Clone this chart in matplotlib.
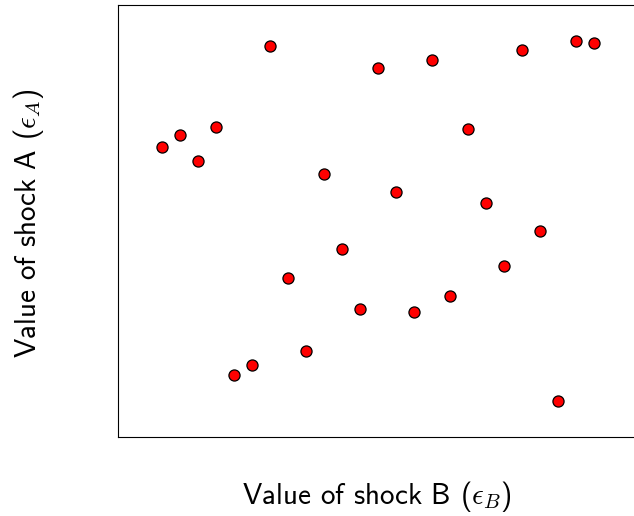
import matplotlib
matplotlib.use("Agg")
import matplotlib.pyplot as plt

plt.rcParams["font.family"] = "cmss10"
plt.rcParams["mathtext.fontset"] = "cm"

# shock draws (x index, value of shock A)
shock_b = list(range(1, 26))
shock_a = [0.671, 0.699, 0.639, 0.718, 0.144, 0.167, 0.905, 0.368, 0.199,
           0.609, 0.435, 0.296, 0.854, 0.567, 0.289, 0.873, 0.326, 0.713,
           0.542, 0.396, 0.896, 0.477, 0.083, 0.917, 0.912]

fig = plt.figure(figsize=(6.34, 5.16), dpi=100)
# axes extends a bit past the right edge of the figure, like the original crop
ax = fig.add_axes([118 / 634, (516 - 437) / 516, 522 / 634, 432 / 516])
ax.scatter(shock_b, shock_a, s=64, color="red", edgecolor="black",
           linewidth=0.9, zorder=3)
ax.set_xlim(-1.45, 27.55)
ax.set_ylim(0, 1)
ax.set_xticks([])
ax.set_yticks([])

fig.text(377 / 634, 1 - 497 / 516, r"Value of shock B ($\epsilon_B$)",
         ha="center", va="center", fontsize=21)
fig.text(28 / 634, 1 - 223 / 516, r"Value of shock A ($\epsilon_A$)",
         ha="center", va="center", fontsize=21, rotation=90)

fig.savefig("out.png", dpi=100)
